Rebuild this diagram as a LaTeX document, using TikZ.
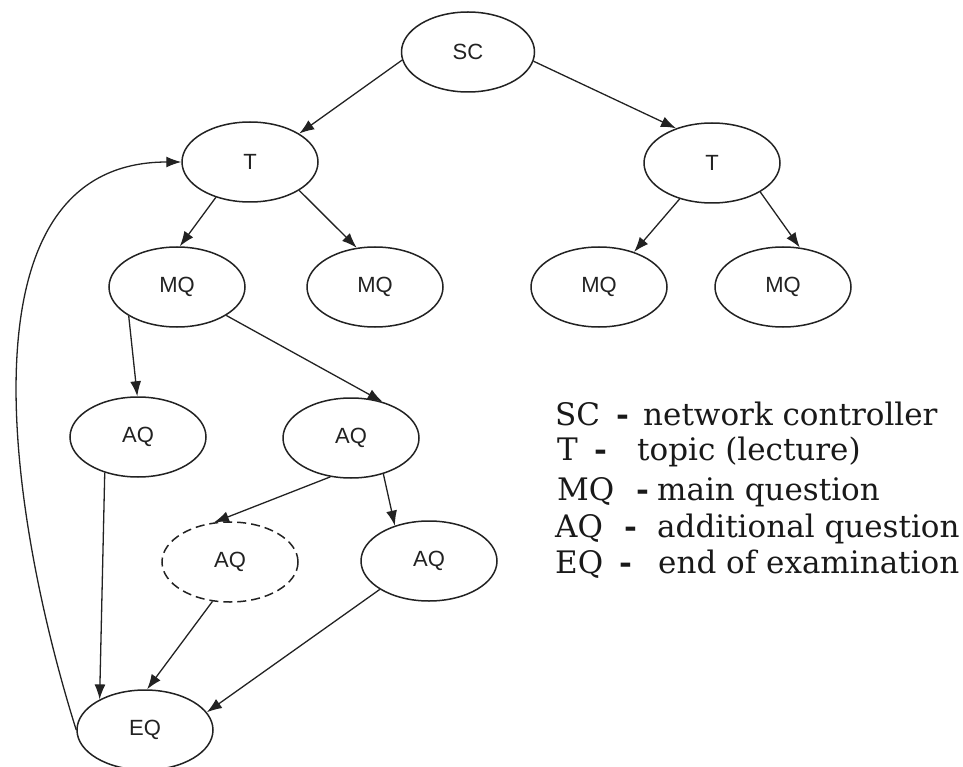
\documentclass[tikz,border=0pt]{standalone}
\usepackage{fontspec}
\setmainfont{Liberation Sans}
\newfontfamily\legendfont{DejaVu Serif}
\usetikzlibrary{shapes.geometric,arrows.meta}
\definecolor{linecol}{HTML}{222222}
\tikzset{
  qnode/.style={ellipse, draw=linecol, line width=1.5pt, minimum width=136pt, minimum height=80pt,
    inner sep=0pt, text=linecol, font=\fontsize{22}{26}\selectfont},
  dashednode/.style={qnode, dash pattern=on 9pt off 5pt},
  edge/.style={draw=linecol, line width=1.3pt, -{Latex[length=15pt,width=11pt]}},
  leg/.style={anchor=base west, inner sep=0pt, text=black!90, font=\legendfont\fontsize{31}{37}\selectfont},
  legdash/.style={leg, font=\legendfont\bfseries\fontsize{31}{37}\selectfont}
}
\begin{document}
\begin{tikzpicture}[x=1pt,y=-1pt]
\useasboundingbox (0,0) rectangle (963,767);
% nodes
\node[qnode, minimum width=133pt] (SC) at (468,52) {SC};
\node[qnode] (T1) at (250,162) {T};
\node[qnode] (T2) at (712,163) {T};
\node[qnode] (MQ1) at (177,287) {MQ};
\node[qnode] (MQ2) at (375,287) {MQ};
\node[qnode] (MQ3) at (599,287) {MQ};
\node[qnode] (MQ4) at (783,287) {MQ};
\node[qnode] (AQ1) at (138,437) {AQ};
\node[qnode] (AQ2) at (351,438) {AQ};
\node[dashednode] (AQ3) at (230,562) {AQ};
\node[qnode] (AQ4) at (429,561) {AQ};
\node[qnode] (EQ) at (145,730) {EQ};
% edges
\draw[edge] (SC.187) -- (T1.30);
\draw[edge] (SC.352) -- (T2.136);
\draw[edge] (T1.226) -- (MQ1.86);
\draw[edge] (T1.330) -- (MQ2.115);
\draw[edge] (T2.228) -- (MQ3.45);
\draw[edge] (T2.329) -- (MQ4.67);
\draw[edge] (MQ1.211) -- (AQ1.91);
\draw[edge] (MQ1.330) -- (AQ2.49);
\draw[edge] (AQ2.242) -- (AQ3.112);
\draw[edge] (AQ2.312) -- (AQ4.134);
\draw[edge] (AQ1.227) -- (EQ.146);
\draw[edge] (AQ3.246) -- (EQ.87);
\draw[edge] (AQ4.210) -- (EQ.16);
\draw[edge] (EQ.west) .. controls (8,513) and (-45,162) .. (T1.west);
% legend
\node[leg] (l1a) at (555,425) {SC};
\node[legdash] (l1d) at (616,425) {-};
\node[leg] (l1b) at (643,425) {network controller};
\node[leg] (l2a) at (557,460) {T};
\node[legdash] (l2d) at (594,460) {-};
\node[leg] (l2b) at (637,460) {topic (lecture)};
\node[leg] (l3a) at (557,500) {MQ};
\node[legdash] (l3d) at (636,500) {-};
\node[leg] (l3b) at (657,500) {main question};
\node[leg] (l4a) at (555,537) {AQ};
\node[legdash] (l4d) at (624,537) {-};
\node[leg] (l4b) at (657,537) {additional question};
\node[leg] (l5a) at (555,573) {EQ};
\node[legdash] (l5d) at (619,573) {-};
\node[leg] (l5b) at (658,573) {end of examination};
\end{tikzpicture}
\end{document}
